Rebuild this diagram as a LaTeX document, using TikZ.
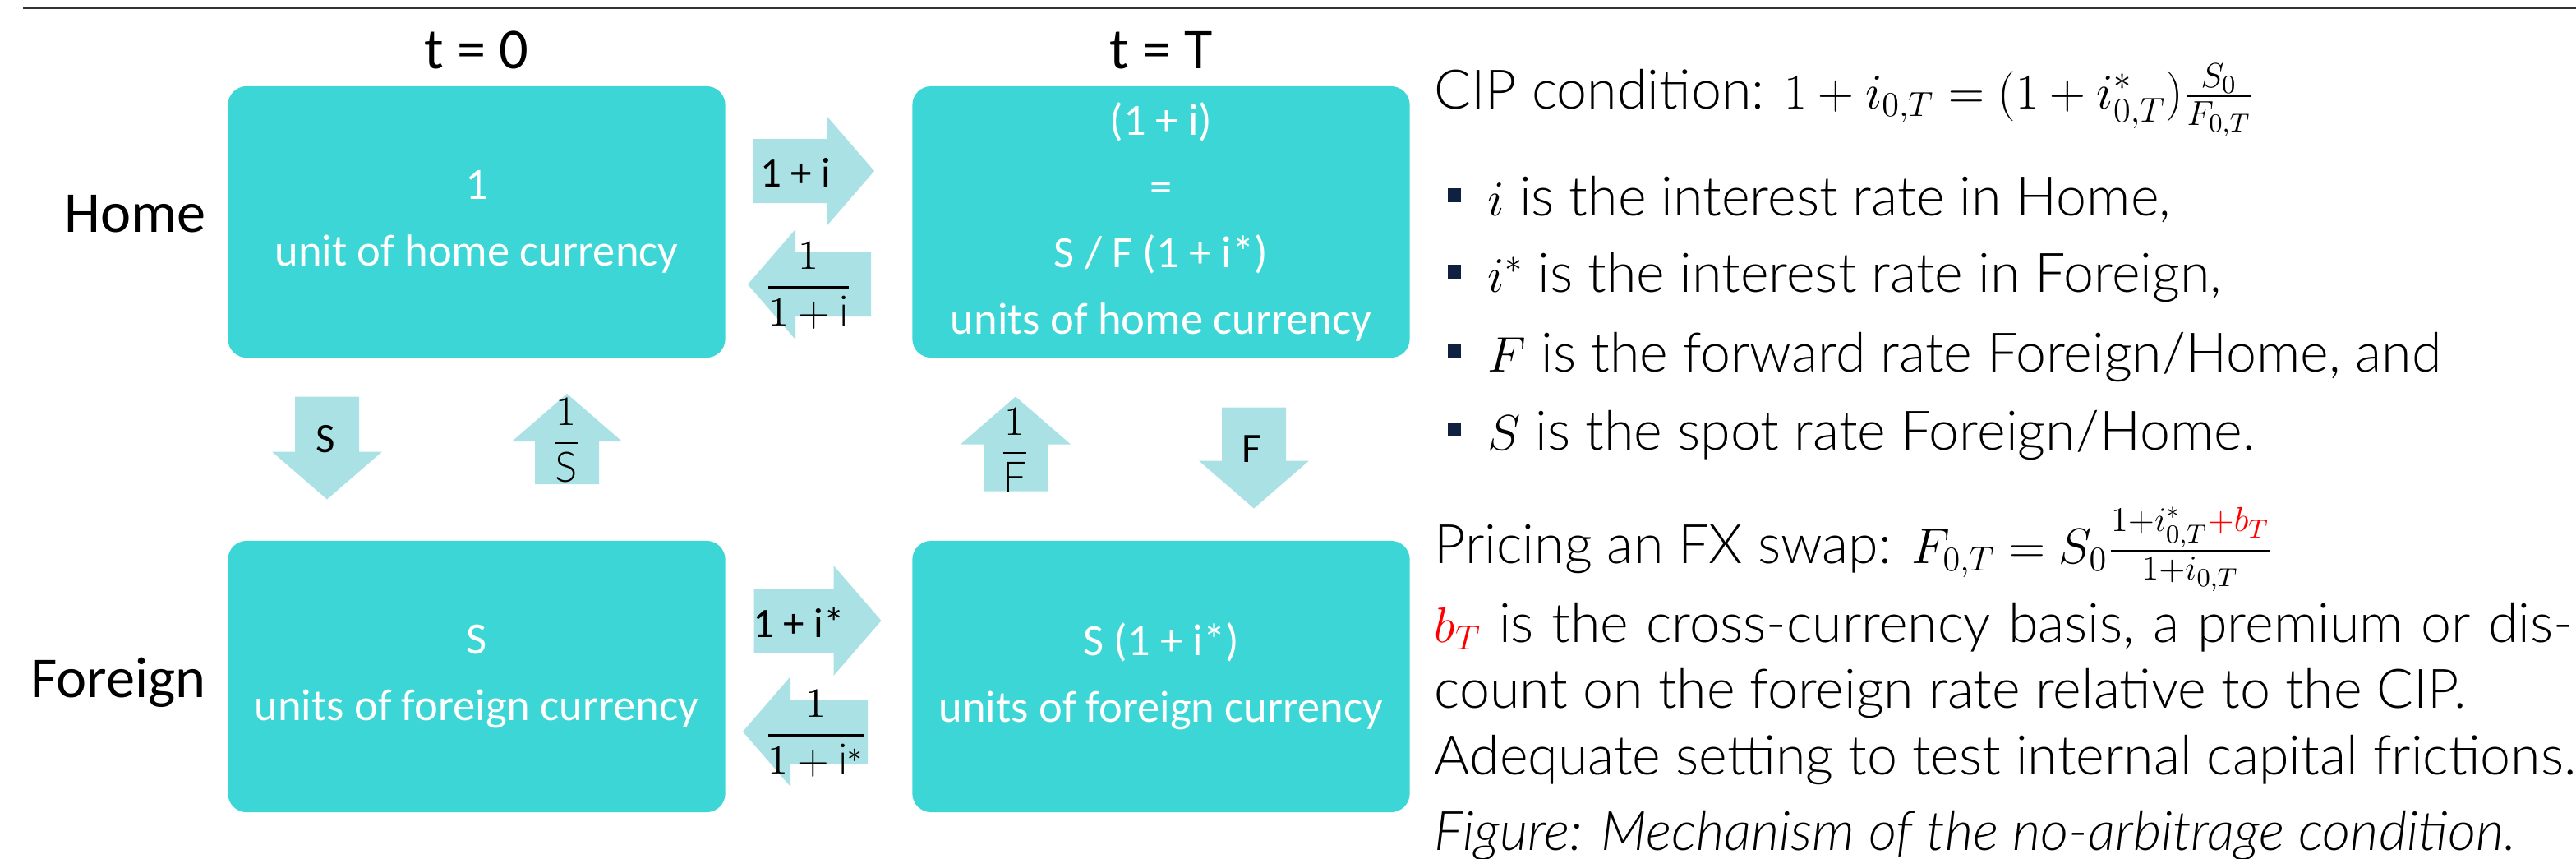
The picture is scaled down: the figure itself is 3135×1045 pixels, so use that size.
\documentclass[tikz,border=0pt]{standalone}
\usepackage{amsmath}
\usepackage{fontspec}
\setmainfont{Lato Light}[ItalicFont={Lato Light Italic}, BoldFont={Lato}]
\newfontfamily\calibri{Carlito}

\definecolor{boxteal}{RGB}{61,214,215}
\definecolor{arrowteal}{RGB}{170,225,229}
\definecolor{bulletnavy}{RGB}{16,32,64}
\definecolor{rulegray}{RGB}{50,50,50}

\tikzset{
    cell/.style={fill=boxteal, rounded corners=6.5pt, minimum width=6.05cm, minimum height=3.3cm,
        text=white, align=center, font=\calibri\fontsize{15.5}{23}\selectfont},
    side/.style={font=\calibri\fontsize{20}{24}\selectfont, inner sep=0pt},
    tag/.style={font=\calibri\fontsize{14.5}{17}\selectfont, inner sep=0pt},
    ratio/.style={font=\fontsize{14.5}{17}\selectfont, inner sep=0pt},
    slide/.style={font=\fontsize{18.85}{22}\selectfont, inner sep=0pt, anchor=base west}
}

% block arrow: centre x, centre y, angle, length
\newcommand{\fatarrow}[4]{%
    \begin{scope}[shift={(#1,#2)}, rotate=#3]
        \fill[arrowteal] (-#4/2,-\shaft) -- ({#4/2-\headlen},-\shaft) -- ({#4/2-\headlen},-\head)
            -- (#4/2,0) -- ({#4/2-\headlen},\head) -- ({#4/2-\headlen},\shaft) -- (-#4/2,\shaft) -- cycle;
    \end{scope}}

\begin{document}
\begin{tikzpicture}[x=0.01cm, y=-0.01cm]
    % Define arrow size
    \def\shaft{39}
    \def\head{67}
    \def\headlen{58}

    \useasboundingbox (0,0) rectangle (3135,1045);
    \draw[rulegray, line width=0.85pt] (28,10) -- (3135,10);

    % Column titles and row labels
    \node[side, anchor=base] (t0) at (580,83) {t = 0};
    \node[side, anchor=base] (tT) at (1413,83) {t = T};
    \node[side, anchor=base east] (home) at (251,282) {Home};
    \node[side, anchor=base east] (foreign) at (251,848) {Foreign};

    % Currency boxes
    \node[cell] (home0) at (580,270) {1\\unit of home currency};
    \node[cell] (homeT) at (1413,270) {(1 + i)\\=\\S / F (1 + i*)\\units of home currency};
    \node[cell] (foreign0) at (580,823) {S\\units of foreign currency};
    \node[cell] (foreignT) at (1413,823) {S (1 + i*)\\units of foreign currency};

    % Arrows between the boxes
    \fatarrow{990}{208}{0}{148}
    \fatarrow{985}{346}{180}{150}
    \fatarrow{995}{755}{0}{155}
    \fatarrow{980}{890}{180}{152}
    \fatarrow{398}{545}{-90}{125}
    \fatarrow{690}{534}{90}{110}
    \fatarrow{1236}{540}{90}{115}
    \fatarrow{1526}{557}{-90}{123}

    % Arrow labels
    \node[tag] (growH) at (968,210) {1 + i};
    \node[ratio] (discH) at (984,348) {$\dfrac{1}{1+\mathrm{i}}$};
    \node[tag] (growF) at (972,757) {1 + i*};
    \node[ratio] (discF) at (993,893) {$\dfrac{1}{1+\mathrm{i}^{*}}$};
    \node[tag] (spotS) at (396,534) {S};
    \node[ratio] (invS) at (689,536) {$\dfrac{1}{\mathrm{S}}$};
    \node[ratio] (invF) at (1235,548) {$\dfrac{1}{\mathrm{F}}$};
    \node[tag] (fwdF) at (1523,546) {F};

    % Text on the right
    \node[slide] (cip) at (1745,132) {CIP condition: $1+i_{0,T}=(1+i^*_{0,T})\frac{S_0}{F_{0,T}}$};
    \foreach \ypos/\words [count=\n] in {262/{$i$ is the interest rate in Home,},
            355/{$i^*$ is the interest rate in Foreign,},
            452/{$F$ is the forward rate Foreign/Home, and},
            547/{$S$ is the spot rate Foreign/Home.}} {
        \fill[bulletnavy] (1762,\ypos-33) rectangle (1778,\ypos-16);
        \node[slide] (item\n) at (1810,\ypos) {\words};
    }
    \node[slide] (swap) at (1745,685) {Pricing an FX swap: $F_{0,T}=S_0\frac{1+i^*_{0,T}\textcolor{red}{+b_T}}{1+i_{0,T}}$};
    \node[slide] (basis) at (1745,781) {\makebox[13.85cm][s]{$\textcolor{red}{b_T}$ is the cross-currency basis, a premium or dis-}};
    \node[slide] (discount) at (1745,861) {count on the foreign rate relative to the CIP.};
    \node[slide] (setting) at (1745,942) {Adequate setting to test internal capital frictions.};
    \node[slide] (caption) at (1745,1034) {\itshape Figure: Mechanism of the no-arbitrage condition.};
\end{tikzpicture}
\end{document}
